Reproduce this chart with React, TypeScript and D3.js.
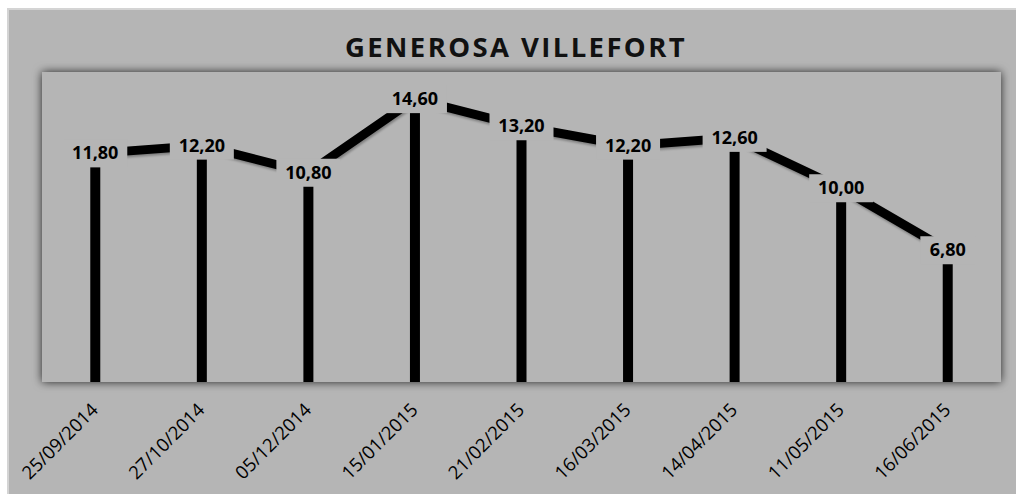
import React from "react";
import * as d3 from "d3";

const title = "GENEROSA VILLEFORT";
const dates = [
  "25/09/2014",
  "27/10/2014",
  "05/12/2014",
  "15/01/2015",
  "21/02/2015",
  "16/03/2015",
  "14/04/2015",
  "11/05/2015",
  "16/06/2015",
];
const values = [11.8, 12.2, 10.8, 14.6, 13.2, 12.2, 12.6, 10.0, 6.8];

const W = 1016;
const H = 494;
const bg = "#b5b5b5";
const plot = { left: 42, top: 72, right: 1001, bottom: 382 };

export default function App() {
  // echelles
  const x = d3
    .scaleBand<string>()
    .domain(dates)
    .range([plot.left, plot.right]);
  const y = d3.scaleLinear().domain([0, 16]).range([plot.bottom, plot.top]);
  const cx = (d: string) => (x(d) as number) + x.bandwidth() / 2;

  const pts = dates.map((d, i) => ({ d, v: values[i] }));
  const line = d3
    .line<{ d: string; v: number }>()
    .x((p) => cx(p.d))
    .y((p) => y(p.v));

  const fmt = (v: number) => v.toFixed(2).replace(".", ",");
  const font = "'Open Sans', 'DejaVu Sans', sans-serif";

  return (
    <svg
      width={W}
      height={H}
      style={{ position: "absolute", left: 0, top: 0 }}
    >
      <defs>
        <filter id="boxShadow" x="-5%" y="-10%" width="110%" height="120%">
          <feDropShadow dx="0" dy="0" stdDeviation="5" floodColor="#000" floodOpacity="0.8" />
        </filter>
        <filter id="lineShadow" x="-5%" y="-10%" width="110%" height="120%">
          <feDropShadow dx="1" dy="2" stdDeviation="1" floodColor="#000" floodOpacity="0.3" />
        </filter>
        <clipPath id="plotClip">
          <rect x={plot.left} y={plot.top} width={plot.right - plot.left} height={plot.bottom - plot.top} />
        </clipPath>
      </defs>
      <rect x={0} y={0} width={W} height={H} fill="#fff" />
      <rect x={8} y={9} width={W} height={H} fill={bg} stroke="#d4d4d4" strokeWidth={2} />
      <text
        x={516}
        y={57}
        textAnchor="middle"
        fontFamily={font}
        fontWeight="bold"
        fontSize={27.5}
        letterSpacing={2.4}
        fill="#111"
      >
        {title}
      </text>
      <rect
        x={plot.left}
        y={plot.top}
        width={plot.right - plot.left}
        height={plot.bottom - plot.top}
        fill={bg}
        filter="url(#boxShadow)"
      />
      <g clipPath="url(#plotClip)">
        <path d={line(pts) || ""} fill="none" stroke="#000" strokeWidth={9} filter="url(#lineShadow)" />
        {pts.map((p) => (
          <rect key={"b" + p.d} x={cx(p.d) - 5} y={y(p.v)} width={10} height={plot.bottom - y(p.v)} fill="#000" />
        ))}
        {pts.map((p) => {
          const s = fmt(p.v);
          const w = s.length * 9.2 + 18;
          return (
            <g key={"l" + p.d}>
              <rect x={cx(p.d) - w / 2} y={y(p.v) - 14} width={w} height={28} fill={bg} />
              <text
                x={cx(p.d)}
                y={y(p.v) + 6}
                textAnchor="middle"
                fontFamily={font}
                fontWeight="bold"
                fontSize={18}
                fill="#000"
              >
                {s}
              </text>
            </g>
          );
        })}
      </g>
      {dates.map((d) => (
        <text
          key={"x" + d}
          transform={`translate(${cx(d) + 4},${plot.bottom + 29}) rotate(-45)`}
          textAnchor="end"
          fontFamily={font}
          fontSize={18.5}
          fill="#000"
        >
          {d}
        </text>
      ))}
    </svg>
  );
}
